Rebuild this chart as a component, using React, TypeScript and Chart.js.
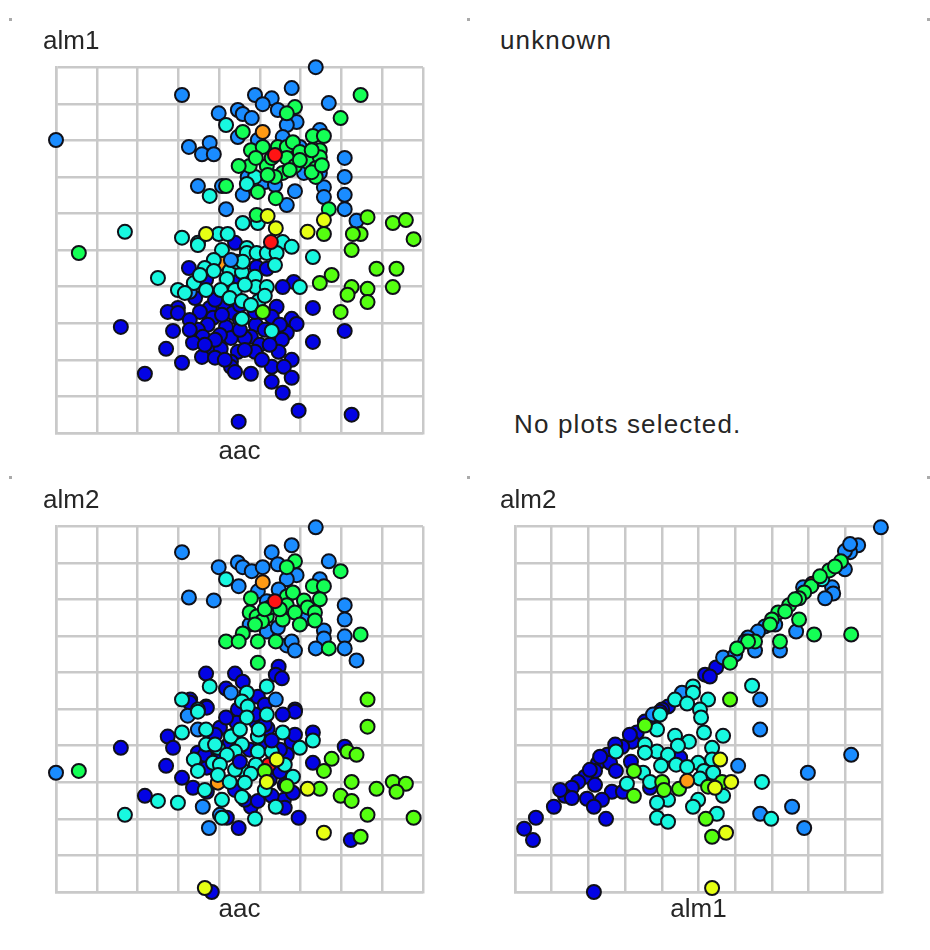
import React, { useEffect, useRef } from "react";
import { Chart, registerables } from "chart.js";

Chart.register(...registerables);

type Pt = number[];

const NAVY = "#0303e4";
const DODGER = "#1a8cff";
const CYAN = "#18f8e0";
const GREEN = "#14ff55";
const LIME = "#55ff10";
const YELLOW = "#e6ff14";
const ORANGE = "#ff9a14";
const RED = "#ff1414";

// Panel: alm1 against aac
const alm1Navy: Pt[] = [[.539,.52],[.592,.454],[.617,.449],[.426,.451],[.468,.419],[.551,.419],[.683,.413],[.656,.399],[.441,.369],[.477,.342],[.514,.348],[.399,.342],[.374,.331],[.399,.328],[.641,.345],[.629,.318],[.73,.342],[.534,.328],[.485,.315],[.678,.312],[.69,.298],[.472,.296],[.59,.296],[.517,.29],[.259,.29],[.387,.279],[.448,.282],[.46,.263],[.529,.26],[.578,.263],[.666,.274],[.808,.279],[.654,.255],[.73,.249],[.436,.247],[.477,.227],[.504,.23],[.6,.241],[.37,.23],[.646,.222],[.546,.222],[.588,.222],[.458,.208],[.49,.206],[.529,.195],[.678,.2],[.409,.192],[.629,.181],[.659,.181],[.529,.181],[.539,.167],[.318,.162],[.578,.162],[.678,.151],[.629,.14],[.656,.11],[.695,.061],[.825,.05],[.548,.031],[.563,.26],[.502,.268],[.49,.364],[.551,.35],[.453,.331],[.588,.331],[.507,.323],[.551,.309],[.428,.309],[.612,.282],[.551,.282],[.49,.255],[.428,.282],[.563,.227],[.514,.2],[.624,.241],[.649,.296],[.465,.241],[.605,.2]];
const alm1Dodger: Pt[] = [[.737,1],[.409,.924],[.1,.801],[.678,.943],[.588,.924],[.629,.915],[.607,.899],[.769,.902],[.499,.874],[.546,.883],[.558,.872],[.58,.861],[.644,.883],[.69,.85],[.666,.842],[.477,.793],[.426,.782],[.458,.762],[.487,.762],[.546,.809],[.747,.828],[.656,.809],[.595,.801],[.808,.752],[.808,.7],[.808,.651],[.808,.612],[.448,.675],[.507,.675],[.558,.651],[.517,.612],[.666,.623],[.686,.661],[.757,.672],[.757,.645],[.708,.711],[.747,.711],[.57,.7],[.612,.686],[.637,.678],[.837,.58],[.698,.782],[.681,.768],[.428,.386]];
const alm1DodgerTop: Pt[] = [[.529,.473]];
const alm1Cyan: Pt[] = [[.517,.842],[.588,.7],[.568,.681],[.477,.648],[.558,.574],[.595,.574],[.269,.55],[.409,.534],[.448,.52],[.499,.544],[.521,.544],[.568,.506],[.656,.522],[.678,.509],[.507,.5],[.568,.492],[.592,.492],[.617,.492],[.641,.492],[.73,.481],[.487,.473],[.465,.451],[.487,.443],[.526,.443],[.556,.44],[.35,.424],[.519,.421],[.588,.427],[.438,.41],[.399,.391],[.468,.391],[.504,.391],[.539,.391],[.59,.399],[.617,.399],[.698,.399],[.526,.369],[.556,.361],[.597,.361],[.578,.35],[.612,.375],[.556,.312],[.629,.279],[.416,.383],[.448,.514],[.543,.468],[.453,.432],[.563,.405],[.637,.459],[.558,.468]];
const alm1Green: Pt[] = [[.847,.924],[.686,.891],[.666,.874],[.798,.861],[.558,.823],[.73,.812],[.757,.812],[.578,.773],[.607,.782],[.644,.782],[.666,.782],[.681,.795],[.747,.773],[.708,.762],[.666,.752],[.717,.741],[.747,.754],[.686,.73],[.617,.73],[.575,.73],[.548,.73],[.737,.724],[.656,.711],[.637,.7],[.737,.7],[.595,.659],[.517,.675],[.639,.642],[.769,.612],[.592,.596],[.156,.492],[.698,.768],[.629,.752],[.727,.773],[.698,.746],[.59,.752],[.727,.713],[.619,.705],[.673,.719],[.752,.732]];
const alm1Lime: Pt[] = [[.864,.59],[.926,.574],[.958,.582],[.847,.544],[.828,.544],[.977,.53],[.757,.544],[.825,.5],[.886,.449],[.935,.449],[.776,.432],[.747,.41],[.926,.399],[.825,.399],[.864,.394],[.815,.378],[.864,.358],[.798,.331],[.607,.331]];
const alm1Yellow: Pt[] = [[.619,.593],[.757,.582],[.639,.56],[.717,.55],[.468,.544]];
const alm1Orange: Pt[] = [[.607,.823]];
const alm1OrangeUnder: Pt[] = [[.507,.465]];
const alm1Red: Pt[] = [[.637,.76],[.627,.522]];

// Panel: alm2 against aac
const aacAlm2Navy: Pt[] = [[.646,.616],[.468,.597],[.539,.597],[.639,.594],[.654,.584],[.558,.575],[.517,.556],[.429,.526],[.595,.534],[.468,.507],[.686,.499],[.612,.512],[.546,.499],[.686,.493],[.656,.485],[.47,.504],[.428,.518],[.543,.463],[.592,.463],[.502,.449],[.619,.447],[.374,.425],[.387,.394],[.259,.394],[.73,.436],[.678,.411],[.526,.408],[.448,.381],[.808,.397],[.666,.375],[.37,.345],[.73,.353],[.409,.312],[.47,.34],[.436,.285],[.47,.274],[.659,.252],[.578,.233],[.661,.23],[.318,.263],[.519,.203],[.695,.203],[.548,.175],[.823,.142],[.482,0],[.588,.485],[.539,.43],[.575,.389],[.49,.43],[.612,.403],[.649,.389],[.686,.43],[.502,.375],[.465,.375],[.661,.293],[.563,.252],[.539,.279],[.624,.307],[.612,.457],[.595,.249],[.629,.263],[.649,.329]];
const aacAlm2Dodger: Pt[] = [[.737,.997],[.409,.929],[.678,.948],[.629,.929],[.499,.888],[.546,.901],[.558,.888],[.58,.877],[.607,.888],[.644,.896],[.769,.904],[.69,.866],[.666,.855],[.548,.836],[.747,.855],[.646,.827],[.595,.822],[.426,.805],[.487,.797],[.617,.795],[.808,.784],[.808,.745],[.708,.745],[.575,.731],[.757,.715],[.617,.712],[.644,.723],[.757,.693],[.808,.699],[.808,.666],[.737,.666],[.666,.674],[.678,.685],[.686,.66],[.837,.633],[.529,.545],[.639,.526],[.1,.326],[.423,.482],[.448,.444],[.46,.233],[.475,.175],[.502,.211]];
const aacAlm2Cyan: Pt[] = [[.517,.855],[.477,.562],[.617,.562],[.568,.545],[.409,.526],[.556,.521],[.448,.499],[.57,.507],[.448,.493],[.568,.477],[.617,.485],[.409,.436],[.468,.444],[.529,.425],[.595,.425],[.656,.436],[.73,.414],[.468,.403],[.556,.403],[.497,.394],[.539,.384],[.698,.394],[.595,.384],[.629,.384],[.519,.375],[.438,.362],[.485,.353],[.502,.348],[.59,.348],[.448,.331],[.556,.334],[.578,.323],[.497,.32],[.526,.301],[.563,.299],[.681,.315],[.556,.26],[.507,.252],[.35,.249],[.399,.244],[.639,.233],[.269,.211],[.507,.203],[.588,.2],[.597,.444],[.49,.403],[.551,.444],[.661,.348],[.539,.334],[.612,.279],[.465,.279]];
const aacAlm2NavyTop: Pt[] = [[.517,.477],[.551,.356],[.681,.271],[.629,.414]];
const aacAlm2Green: Pt[] = [[.686,.904],[.666,.888],[.798,.877],[.73,.836],[.757,.836],[.578,.803],[.666,.808],[.681,.819],[.747,.8],[.708,.797],[.666,.784],[.717,.778],[.686,.764],[.575,.764],[.592,.753],[.617,.753],[.656,.745],[.605,.74],[.735,.764],[.735,.742],[.558,.707],[.847,.704],[.517,.685],[.548,.685],[.595,.685],[.639,.685],[.769,.666],[.595,.627],[.156,.331],[.624,.778],[.649,.773],[.698,.731],[.612,.773],[.588,.731]];
const aacAlm2Lime: Pt[] = [[.864,.526],[.864,.452],[.815,.384],[.837,.375],[.776,.364],[.757,.331],[.612,.331],[.825,.301],[.666,.29],[.747,.282],[.886,.282],[.926,.301],[.958,.296],[.935,.274],[.798,.263],[.825,.249],[.864,.211],[.977,.203],[.847,.151]];
const aacAlm2Yellow: Pt[] = [[.641,.362],[.617,.301],[.717,.282],[.757,.162],[.465,.011]];
const aacAlm2Orange: Pt[] = [[.607,.847]];
const aacAlm2OrangeUnder: Pt[] = [[.497,.299]];
const aacAlm2Red: Pt[] = [[.637,.795]];
const aacAlm2RedUnder: Pt[] = [[.622,.348]];

// Panel: alm2 against alm1
const almNavy: Pt[] = [[.518,.594],[.548,.614],[.531,.589],[.417,.507],[.401,.499],[.382,.477],[.332,.436],[.319,.411],[.292,.397],[.251,.375],[.316,.356],[.226,.353],[.259,.353],[.218,.331],[.275,.331],[.191,.315],[.172,.301],[.218,.293],[.155,.285],[.264,.274],[.294,.274],[.368,.285],[.136,.263],[.155,.257],[.196,.255],[.237,.252],[.106,.233],[.215,.233],[.057,.203],[.248,.2],[.025,.173],[.049,.142],[.215,0],[.45,.367],[.123,.279],[.204,.334],[.232,.37],[.273,.403],[.313,.43],[.354,.466],[.395,.493]];
const almDodger: Pt[] = [[.997,.997],[.935,.948],[.913,.929],[.899,.932],[.899,.882],[.864,.833],[.867,.816],[.845,.803],[.785,.833],[.681,.726],[.662,.712],[.722,.66],[.766,.712],[.654,.66],[.635,.696],[.567,.641],[.668,.526],[.455,.545],[.668,.444],[.608,.345],[.916,.375],[.798,.326],[.755,.233],[.668,.214],[.788,.175],[.376,.485],[.627,.685],[.6,.649],[.913,.951],[.709,.731]];
const almCyan: Pt[] = [[.837,.855],[.646,.564],[.485,.562],[.485,.545],[.436,.526],[.469,.515],[.526,.526],[.504,.499],[.507,.477],[.395,.485],[.387,.444],[.515,.436],[.436,.427],[.567,.427],[.474,.411],[.354,.403],[.444,.4],[.537,.394],[.275,.384],[.387,.384],[.354,.381],[.417,.375],[.537,.362],[.439,.348],[.499,.353],[.398,.345],[.469,.342],[.349,.326],[.515,.331],[.54,.326],[.368,.301],[.504,.31],[.305,.296],[.673,.301],[.567,.263],[.499,.252],[.417,.252],[.387,.244],[.485,.233],[.55,.214],[.698,.2],[.387,.203],[.417,.192]];
const almGreen: Pt[] = [[.888,.904],[.856,.879],[.807,.836],[.788,.819],[.774,.803],[.747,.784],[.717,.764],[.7,.745],[.774,.745],[.815,.704],[.916,.704],[.722,.685],[.654,.685],[.635,.685],[.605,.666],[.586,.627],[.695,.731],[.736,.767],[.763,.8],[.831,.863],[.872,.89]];
const almLime: Pt[] = [[.586,.526],[.354,.455],[.324,.331],[.401,.301],[.324,.263],[.406,.279],[.447,.282],[.526,.288],[.564,.301],[.52,.2],[.537,.151]];
const almYellow: Pt[] = [[.559,.362],[.589,.301],[.545,.285],[.575,.162],[.537,.011]];
const almOrange: Pt[] = [[.469,.304]];
const almRed: Pt[] = [[.81,.843]];

const GRID = "#c9c9c9";
const FONT = '"Liberation Sans", Arial, sans-serif';
const INK = "#262626";

type Layer = [string, Pt[]];
type PanelProps = {
  left: number; top: number; width: number; height: number;
  yName: string; xName: string; xMin: number;
  pad: { left: number; right: number; top: number; bottom: number };
  titleGap: number; xTitleGap: number; yWidth: number;
  layers: Layer[];
};

function Panel(p: PanelProps) {
  const ref = useRef<HTMLCanvasElement>(null);
  useEffect(() => {
    const chart = new Chart(ref.current!, {
      type: "scatter",
      data: {
        // Chart.js paints the first dataset last, so reverse to paint layers in listed order.
        datasets: [...p.layers].reverse().map(([color, pts]) => ({
          data: pts.map(([x, y]) => ({ x, y })),
          backgroundColor: color,
          borderColor: "#101018",
          borderWidth: 2,
          pointRadius: 7,
          clip: false as any,
        })),
      },
      options: {
        animation: false,
        responsive: false,
        devicePixelRatio: 1,
        layout: { padding: p.pad },
        plugins: {
          legend: { display: false },
          tooltip: { enabled: false },
          title: {
            display: true, text: p.yName, align: "start", color: INK,
            font: { family: FONT, size: 26, weight: "normal", lineHeight: 1.2 },
            padding: { top: 0, bottom: p.titleGap },
          },
        },
        scales: {
          x: {
            type: "linear", min: p.xMin, max: 1,
            ticks: { display: false, stepSize: 0.1 },
            grid: { color: GRID, lineWidth: 2.5, drawTicks: false },
            border: { color: GRID, width: 2.5 },
            title: {
              display: true, text: p.xName, color: INK,
              font: { family: FONT, size: 26, weight: "normal", lineHeight: 1.2 },
              padding: { top: p.xTitleGap, bottom: 0 },
            },
          },
          y: {
            type: "linear", min: 0, max: 1,
            ticks: { display: false, stepSize: 0.1 },
            grid: { color: GRID, lineWidth: 2.5, drawTicks: false },
            border: { color: GRID, width: 2.5 },
            afterFit: (s: any) => { s.width = p.yWidth; },
          },
        },
      },
    });
    return () => chart.destroy();
  }, []);
  return (
    <canvas
      ref={ref}
      width={p.width}
      height={p.height}
      style={{ position: "absolute", left: p.left, top: p.top, width: p.width, height: p.height }}
    />
  );
}

const dots = [[10, 19], [468, 19], [928, 19], [10, 477], [468, 477], [928, 477]];

const textStyle: React.CSSProperties = {
  position: "absolute", fontFamily: FONT, fontSize: 26, lineHeight: "30px",
  color: INK, letterSpacing: "1.15px", whiteSpace: "nowrap",
};

export default function App() {
  return (
    <div style={{ position: "absolute", left: 0, top: 0, width: 930, height: 950, overflow: "hidden", background: "#fff" }}>
      {dots.map(([x, y], i) => (
        <div key={i} style={{ position: "absolute", left: x - 1, top: y - 1, width: 3, height: 3, background: "#aaa" }} />
      ))}
      <div style={{ ...textStyle, left: 670, top: -25, letterSpacing: 0 }}>alm1</div>
      <div style={{ ...textStyle, left: 500, top: 25 }}>unknown</div>
      <div style={{ ...textStyle, left: 514, top: 409 }}>No plots selected.</div>
      <Panel
        left={0} top={20} width={465} height={450}
        yName="alm1" xName="aac" xMin={0.1}
        pad={{ left: 43, right: 42, top: 6, bottom: 2.8 }}
        titleGap={10} xTitleGap={3} yWidth={13}
        layers={[[NAVY, alm1Navy], [DODGER, alm1Dodger], [ORANGE, alm1OrangeUnder], [CYAN, alm1Cyan], [DODGER, alm1DodgerTop], [GREEN, alm1Green], [LIME, alm1Lime], [YELLOW, alm1Yellow], [ORANGE, alm1Orange], [RED, alm1Red]]}
      />
      <Panel
        left={0} top={480} width={465} height={460}
        yName="alm2" xName="aac" xMin={0.1}
        pad={{ left: 43, right: 42, top: 5, bottom: 14.8 }}
        titleGap={10} xTitleGap={2} yWidth={13}
        layers={[[NAVY, aacAlm2Navy], [DODGER, aacAlm2Dodger], [ORANGE, aacAlm2OrangeUnder], [RED, aacAlm2RedUnder], [CYAN, aacAlm2Cyan], [NAVY, aacAlm2NavyTop], [GREEN, aacAlm2Green], [LIME, aacAlm2Lime], [YELLOW, aacAlm2Yellow], [ORANGE, aacAlm2Orange], [RED, aacAlm2Red]]}
      />
      <Panel
        left={460} top={480} width={470} height={460}
        yName="alm2" xName="alm1" xMin={0}
        pad={{ left: 40, right: 48, top: 5, bottom: 14.8 }}
        titleGap={10} xTitleGap={2} yWidth={15}
        layers={[[RED, almRed], [NAVY, almNavy], [DODGER, almDodger], [CYAN, almCyan], [GREEN, almGreen], [LIME, almLime], [YELLOW, almYellow], [ORANGE, almOrange]]}
      />
    </div>
  );
}
